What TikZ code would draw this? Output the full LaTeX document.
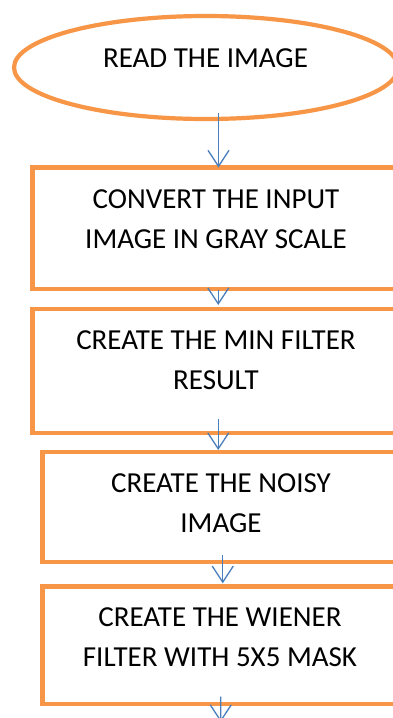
\documentclass[tikz,border=0pt]{standalone}
\usepackage{fontspec}
\setmainfont{Carlito}
\usetikzlibrary{arrows.meta,shapes.geometric}
\definecolor{boxorange}{HTML}{F79646}
\definecolor{arrowblue}{HTML}{4A7EBB}
\begin{document}
\begin{tikzpicture}[x=1pt,y=-1pt,
  stepbox/.style={draw=boxorange, line width=4.8pt, rectangle, outer sep=0pt, inner sep=0pt},
  startshape/.style={draw=boxorange, line width=4.2pt, ellipse, outer sep=0pt, inner sep=0pt},
  label text/.style={font=\fontsize{29}{40}\selectfont, align=center, inner sep=0pt, text=black},
  arr/.style={draw=arrowblue, line width=1.3pt, -{Straight Barb[length=16pt,width=21pt]}}]
\useasboundingbox (0,0) rectangle (393,718);
\clip (0,0) rectangle (393,718);
\fill[white] (0,0) rectangle (393,718);

\node[startshape, minimum width=384pt, minimum height=103pt] (read) at (206,67.5) {};
\node[label text, anchor=base] (readt) at (205.5,67) {READ THE IMAGE};

\node[stepbox, minimum width=369.5pt, minimum height=121.5pt] (b1) at (217.25,228.25) {};
\node[label text] (t1) at (216,219.6) {CONVERT THE INPUT\\IMAGE IN GRAY SCALE};

\node[stepbox, minimum width=369.5pt, minimum height=124pt] (b2) at (217.25,371) {};
\node[label text] (t2) at (216,360.6) {CREATE THE MIN FILTER\\RESULT};

\node[stepbox, minimum width=359.5pt, minimum height=110pt] (b3) at (222.25,507) {};
\node[label text] (t3) at (221,503.6) {CREATE THE NOISY\\IMAGE};

\node[stepbox, minimum width=359.5pt, minimum height=117.7pt] (b4) at (222.25,645.15) {};
\node[label text] (t4) at (220,637) {CREATE THE WIENER\\FILTER WITH 5X5 MASK};

\coordinate (endpt) at (220.7,722);

\draw[arr] ([xshift=12.5pt,yshift=6pt]read.south) -- ([xshift=1.25pt]b1.north);
\draw[arr] ([xshift=1pt,yshift=-1pt]b1.south) -- ([xshift=1pt,yshift=4pt]b2.north);
\draw[arr] ([xshift=1pt,yshift=14pt]b2.south) -- ([xshift=-4pt,yshift=2pt]b3.north);
\draw[arr] ([xshift=0.5pt,yshift=7pt]b3.south) -- ([xshift=0.5pt,yshift=3pt]b4.north);
\draw[arr] ([xshift=-1.5pt,yshift=7.5pt]b4.south) -- (endpt);
\end{tikzpicture}
\end{document}
